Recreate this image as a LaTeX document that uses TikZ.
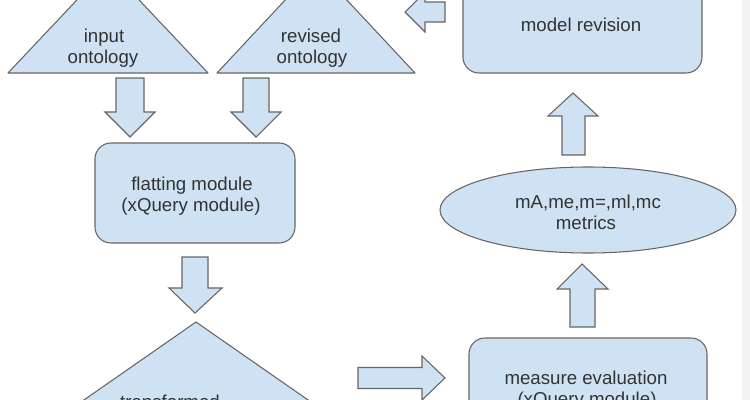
\documentclass[tikz,border=0pt]{standalone}
\usepackage{fontspec}
\setmainfont{Liberation Sans}
\usetikzlibrary{shapes.geometric}
\definecolor{shapefill}{HTML}{CFE2F3}
\definecolor{shapeline}{HTML}{666666}
\definecolor{txt}{HTML}{333333}
\definecolor{strip}{HTML}{F3F3F3}
\tikzset{
  shapebox/.style={fill=shapefill, draw=shapeline, line width=0.8pt, line join=round},
  blockarrow/.style={fill=shapefill, draw=shapeline, line width=0.8pt, line join=miter},
  lbl/.style={anchor=base, inner sep=0pt, text=txt, font=\fontsize{14}{16}\selectfont}
}
\begin{document}
\begin{tikzpicture}[x=0.75pt,y=-0.75pt]
\useasboundingbox (0,0) rectangle (750,400);
\clip (0,0) rectangle (750,400);
\fill[white] (0,0) rectangle (750,400);
\fill[strip] (742,0) rectangle (750,400);

% triangles
\draw[shapebox] (8,73) -- (108,-33) -- (208,73) -- cycle;
\draw[shapebox] (217,73) -- (316,-33) -- (415,73) -- cycle;
\draw[shapebox] (196,322) -- (423,480) -- (-31,480) -- cycle;

% rounded boxes
\node[shapebox, rounded corners=12pt, minimum width=239*0.75pt, minimum height=110*0.75pt, inner sep=0pt] (rev) at (582.5,18) {};
\node[shapebox, rounded corners=12pt, minimum width=200*0.75pt, minimum height=100*0.75pt, inner sep=0pt] (flat) at (195,193) {};
\node[shapebox, rounded corners=12pt, minimum width=238*0.75pt, minimum height=110*0.75pt, inner sep=0pt] (meas) at (588,393) {};
\node[shapebox, ellipse, minimum width=296*0.75pt, minimum height=86*0.75pt, inner sep=0pt] (met) at (588,210) {};

% texts
\node[lbl] (t1) at (104,42) {input};
\node[lbl] (t2) at (103,63) {ontology};
\node[lbl] (t3) at (311,42) {revised};
\node[lbl] (t4) at (312,63) {ontology};
\node[lbl] (t5) at (581,31) {model revision};
\node[lbl] (t6) at (192,190) {flatting module};
\node[lbl] (t7) at (191,211) {(xQuery module)};
\node[lbl] (t8) at (588,208) {mA,me,m=,ml,mc};
\node[lbl] (t9) at (586,229) {metrics};
\node[lbl] (t10) at (586,384) {measure evaluation};
\node[lbl] (t11) at (587,405) {(xQuery module)};
\node[lbl] (t12) at (170,408) {transformed};

% block arrows
\draw[blockarrow] (405,12) -- (425,-8) -- (425,2) -- (445,2) -- (445,22) -- (425,22) -- (425,32) -- cycle;
\draw[blockarrow] (116,78) -- (144,78) -- (144,112) -- (155,112) -- (130,137) -- (105,112) -- (116,112) -- cycle;
\draw[blockarrow] (243,78) -- (269,78) -- (269,112) -- (281,112) -- (256,137) -- (231,112) -- (243,112) -- cycle;
\draw[blockarrow] (182,257) -- (208,257) -- (208,288) -- (222,288) -- (195,313) -- (169,288) -- (182,288) -- cycle;
\draw[blockarrow] (358,367.5) -- (422,367.5) -- (422,356) -- (445,378) -- (422,400) -- (422,388.5) -- (358,388.5) -- cycle;
\draw[blockarrow] (570,327) -- (570,289) -- (557,289) -- (582,264) -- (608,289) -- (595,289) -- (595,327) -- cycle;
\draw[blockarrow] (562,155) -- (562,116) -- (548,116) -- (573,93) -- (598,116) -- (585,116) -- (585,155) -- cycle;
\end{tikzpicture}
\end{document}
